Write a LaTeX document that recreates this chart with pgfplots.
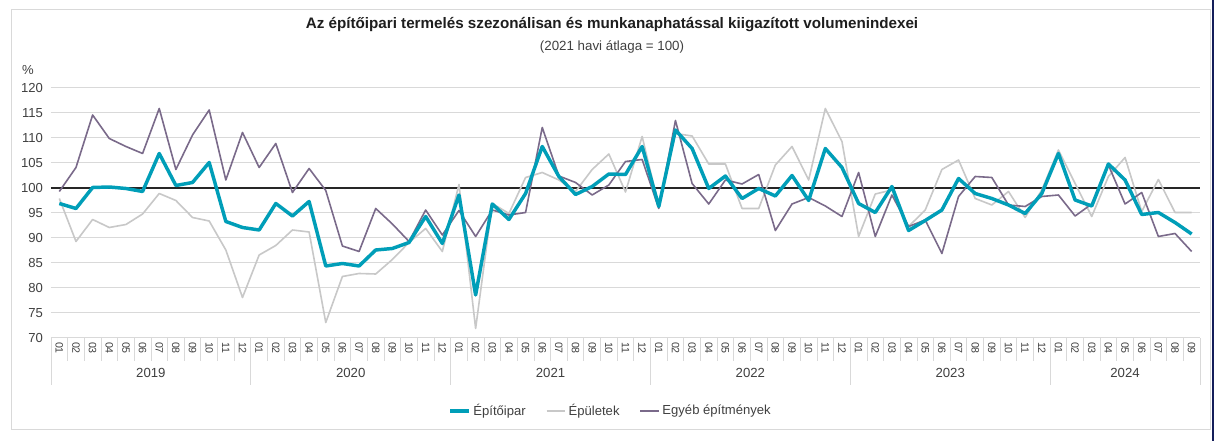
\documentclass[border=0pt]{standalone}
\usepackage{pgfplots}
\pgfplotsset{compat=1.18}
\usepackage{pgfplotstable}
\usepackage{fontspec}
\setmainfont{Liberation Sans}
\definecolor{teal1}{RGB}{0,158,184}
\definecolor{bgray}{RGB}{200,200,200}
\definecolor{purp}{RGB}{122,106,138}
\definecolor{txt}{RGB}{64,64,64}
\definecolor{ttl}{RGB}{30,30,30}
\definecolor{gridc}{RGB}{217,217,217}
\definecolor{navyedge}{RGB}{20,30,90}

\pgfplotstableread{
x E B O
0 96.9 97.9 99.3
1 95.9 89.3 104.1
2 100.1 93.7 114.6
3 100.2 92.1 109.9
4 99.9 92.7 108.3
5 99.3 94.8 106.9
6 106.9 98.9 115.9
7 100.5 97.5 103.7
8 101.1 94.1 110.6
9 105.1 93.4 115.6
10 93.3 87.6 101.6
11 92.1 78.1 111.1
12 91.6 86.6 104.1
13 96.9 88.5 108.9
14 94.4 91.6 99.1
15 97.3 91.2 103.9
16 84.4 73.1 99.5
17 84.9 82.3 88.4
18 84.4 82.9 87.3
19 87.6 82.8 95.9
20 87.9 85.7 92.8
21 89.1 89.1 89.3
22 94.3 91.9 95.6
23 88.9 87.3 90.6
24 98.6 100.7 95.5
25 78.6 71.9 90.3
26 96.8 96.9 95.6
27 93.7 94.9 94.6
28 98.9 102.1 95.1
29 108.3 103.1 112.1
30 102.3 101.6 102.4
31 98.7 99.3 101.1
32 100.3 103.7 98.6
33 102.8 106.8 100.6
34 102.7 99.2 105.3
35 108.3 110.3 105.7
36 96.3 96.3 95.9
37 111.6 110.9 113.5
38 107.9 110.4 100.9
39 99.9 104.8 96.8
40 102.4 104.8 101.6
41 97.9 95.9 100.8
42 99.9 95.9 102.7
43 98.4 104.6 91.5
44 102.5 108.3 96.8
45 97.5 101.6 98.1
46 107.9 115.9 96.4
47 104.1 109.3 94.3
48 96.9 90.3 103.1
49 95.1 98.8 90.3
50 100.3 99.6 98.6
51 91.5 92.3 92.3
52 93.5 95.6 93.6
53 95.6 103.7 86.9
54 101.9 105.6 98.3
55 98.9 97.9 102.3
56 97.9 96.6 102.1
57 96.6 99.3 96.6
58 94.9 94.1 96.3
59 98.9 99.6 98.3
60 106.9 107.6 98.6
61 97.6 100.9 94.4
62 96.4 94.3 96.8
63 104.8 102.3 104.6
64 101.6 106.1 96.8
65 94.7 95.3 99.1
66 95.1 101.7 90.3
67 93.1 95.1 90.9
68 90.8 95.1 87.3
}\data

\begin{document}
\begin{tikzpicture}
\useasboundingbox (-38.25pt,-77.25pt) rectangle (873pt,253.5pt);
\fill[white] (-38.25pt,-77.25pt) rectangle (873pt,253.5pt);
\draw[gray!30, line width=0.75pt] (-29.25pt,-69pt) rectangle (869.25pt,246pt);
\draw[navyedge, line width=1.5pt] (871.5pt,-77.25pt) -- (871.5pt,253.5pt);
\begin{axis}[
  at={(0pt,0pt)}, anchor=south west,
  scale only axis, width=861.75pt, height=187.5pt,
  xmin=-0.5, xmax=68.5, ymin=70, ymax=120,
  ytick={70,75,...,120},
  xtick={0,...,68},
  xticklabels={01,02,03,04,05,06,07,08,09,10,11,12,01,02,03,04,05,06,07,08,09,10,11,12,01,02,03,04,05,06,07,08,09,10,11,12,01,02,03,04,05,06,07,08,09,10,11,12,01,02,03,04,05,06,07,08,09,10,11,12,01,02,03,04,05,06,07,08,09},
  minor xtick={-0.5,0.5,...,68.5},
  axis line style={draw=none},
  ymajorgrids, grid style={gridc, line width=0.75pt},
  tick align=outside, xtick pos=bottom, ytick pos=left,
  major tick length=0pt, minor tick length=17.25pt,
  minor tick style={gridc, line width=0.6pt},
  extra x ticks={-0.5,11.5,23.5,35.5,47.5,59.5,68.5},
  extra x tick labels={},
  extra x tick style={major tick length=35.25pt, major tick style={gridc, line width=0.6pt}},
  extra y ticks={100}, extra y tick labels={},
  extra y tick style={ymajorgrids=true, major grid style={black!85, line width=1pt}},
  /pgf/number format/assume math mode=true,
  yticklabel style={font=\fontsize{9.8}{11}\selectfont, text=txt, xshift=-2.5pt},
  xticklabel style={font=\fontsize{8}{9}\selectfont, text=txt, rotate=-90, anchor=west, xshift=-0.5pt},
  legend style={at={(axis description cs:0.4874,-0.292)}, anchor=center, draw=none, fill=none,
    legend columns=-1, font=\fontsize{9.8}{11}\selectfont, text=txt,
    /tikz/every even column/.append style={column sep=13pt}},
  legend image code/.code={\draw[#1] (0pt,0pt) -- (14pt,0pt);},
  clip=false,
]
\addlegendimage{teal1, line width=2.6pt}
\addlegendentry{Építőipar}
\addlegendimage{bgray, line width=1.2pt}
\addlegendentry{Épületek}
\addlegendimage{purp, line width=1.2pt}
\addlegendentry{Egyéb építmények}
\addplot[forget plot, bgray, line width=1.2pt, line join=round] table[x=x,y=B]{\data};
\addplot[forget plot, purp, line width=1.2pt, line join=round] table[x=x,y=O]{\data};
\addplot[forget plot, teal1, line width=2.6pt, line join=round] table[x=x,y=E]{\data};
\foreach \yr/\c in {2019/5.5,2020/17.5,2021/29.5,2022/41.5,2023/53.5} {
  \edef\tmp{\noexpand\node[font=\noexpand\fontsize{9.9}{11}\noexpand\selectfont, text=txt] at (axis cs:\c,70) [yshift=-26.25pt] {\yr};}
  \tmp
}
\node[font=\fontsize{9.9}{11}\selectfont, text=txt] at (axis cs:64,70) [yshift=-26.25pt] {2024};
\end{axis}
\node[font=\bfseries\fontsize{11.4}{13}\selectfont, text=ttl] at (420.75pt,234.75pt) {Az építőipari termelés szezonálisan és munkanaphatással kiigazított volumenindexei};
\node[font=\fontsize{10}{12}\selectfont, text=txt] at (420.75pt,218.25pt) {(2021 havi átlaga = 100)};
\node[font=\fontsize{9.8}{11}\selectfont, text=txt] at (-17.25pt,201pt) {\%};
\end{tikzpicture}
\end{document}
